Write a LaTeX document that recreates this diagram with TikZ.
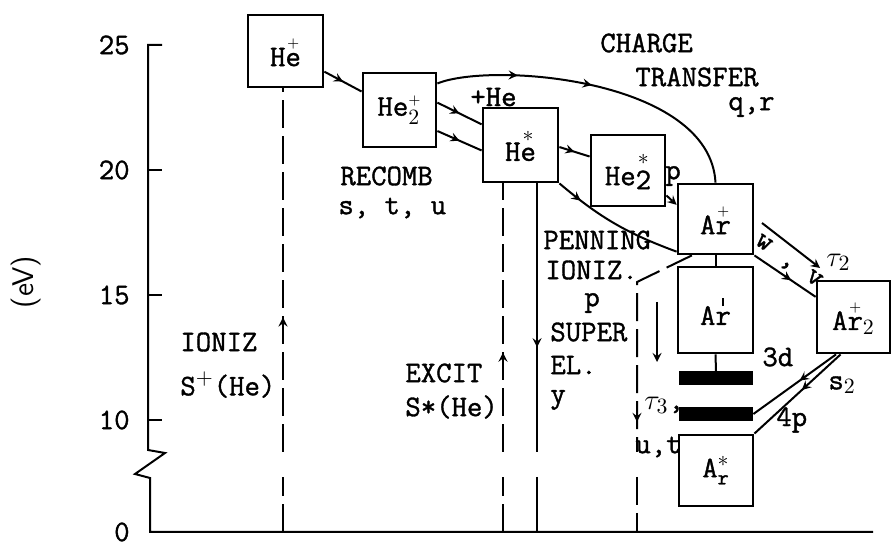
\documentclass[tikz,border=0pt]{standalone}
\usepackage{amsmath}
\usepackage{fontspec}
\setmonofont{Latin Modern Mono}[FakeBold=1.2]
\usetikzlibrary{arrows, decorations.markings, calc}

\begin{document}
\begin{tikzpicture}[x=0.5bp, y=-0.5bp, >=stealth,
        box/.style={rectangle, draw=black, line width=1.4bp, minimum width=37.5bp, minimum height=36bp, inner sep=0pt, font=\ttfamily\fontsize{15}{17}\selectfont},
        bar/.style={rectangle, fill=black, minimum width=37bp, minimum height=7bp, inner sep=0pt},
        lbl/.style={font=\ttfamily\fontsize{15}{17}\selectfont, inner sep=0pt, anchor=west},
        tick/.style={font=\ttfamily\fontsize{15}{17}\selectfont, inner sep=0pt, anchor=east},
        line/.style={draw, line width=1bp},
        dline/.style={line, dash pattern=on 14bp off 4bp},
        flow/.style={postaction={decorate}, decoration={markings, mark=at position #1 with {\arrow{>}}}},
        flow/.default=0.5
    ]
        \useasboundingbox (0,0) rectangle (891,549);

        % energy axis with break
        \draw[line] (162,45) -- (148,45) -- (148,450) -- (165,453) -- (135,474) -- (150,478) -- (150,532) -- (873,532);
        \foreach \y in {170,295,420} \draw[line] (148,\y) -- (162,\y);
        \foreach \y/\v in {45/25,170/20,295/15,420/10,532/0} \node[tick] (t\v) at (130,\y) {\v};
        \node[font=\sffamily\fontsize{15}{17}\selectfont, rotate=90] (unit) at (26,282) {(eV)};

        % levels
        \node[box] (heplus) at (285.5,51) {H$\overset{\scriptscriptstyle +}{\texttt{e}}$};
        \node[box, minimum width=36.5bp, minimum height=37bp] (hetwoplus) at (399.5,110) {He$^{\scriptscriptstyle +}_{2}$};
        \node[box, minimum height=37bp] (hestar) at (520.5,145) {H$\overset{*}{\texttt{e}}$};
        \node[box, minimum width=37bp, minimum height=35.5bp] (hetwostar) at (628,170.5) {He\raisebox{-2bp}{$\overset{*}{\texttt{2}}$}};
        \node[box, minimum height=35bp] (arplus) at (715.5,219) {A$\overset{\scriptscriptstyle +}{\texttt{r}}$};
        \node[box, minimum height=43bp] (arprime) at (715.5,310) {A$\overset{\rule{0.8bp}{4bp}}{\texttt{r}}$};
        \node[box, minimum width=36.5bp] (artwoplus) at (853.5,317) {A$\overset{\scriptscriptstyle +}{\texttt{r}}_{2}$};
        \node[box, minimum width=37bp, minimum height=35.5bp] (arstar) at (716,470.5) {A$^{*}_{\texttt{r}}$};
        \node[bar] (bard) at (716,378.5) {};
        \node[bar] (barp) at (716,414) {};

        % reaction paths
        \path[line, flow] (heplus.-28) -- (hetwoplus.154);
        \path[line, flow] (hetwoplus.11) -- (hestar.152);
        \path[line, flow] (hetwoplus.-29) -- (hestar.-172);
        \path[line, flow] (hestar.-3) -- (hetwostar.160);
        \path[line, flow=0.2] (hestar.south east) to[bend right=10] (arplus.-140);
        \path[line, ->] (hetwostar.-33) -- (arplus.160);
        \path[line, postaction={decorate}, decoration={markings, mark=at position 0.25 with {\arrow{>}}, mark=at position 0.48 with {\arrow{>}}}]
            (hetwoplus.35) .. controls +(54,-22) and +(-5.5,-104) .. (arplus.north);
        \path[line, flow=0.6] (arplus.south east) -- (artwoplus.152);
        \path[line, flow=0.44] (artwoplus.-115) -- (barp.east);
        \path[line, flow=0.45] (artwoplus.-109) -- (arstar.north east);
        \path[line] (arplus.south) -- (arprime.north);
        \path[line] (arprime.south) -- (bard.north);

        \coordinate (tauA) at (762,223);
        \coordinate (tauB) at (820,268);
        \path[line, ->] (tauA) -- (tauB);
        \coordinate (dropA) at (657,302);
        \coordinate (dropB) at (657,362);
        \path[line, ->] (dropA) -- (dropB);

        % vertical transitions, broken like the axis
        \coordinate (base) at (0,532);
        \coordinate (brkA) at (0,452);
        \coordinate (brkB) at (0,477);
        \coordinate (ion) at (283,0);
        \coordinate (exc) at (503,0);
        \coordinate (sup) at (537,0);
        \coordinate (pen) at (637,0);
        \coordinate (penkink) at (637,282);
        \path[dline, flow=0.37] (ion |- brkA) -- (ion |- heplus.south);
        \path[dline] (ion |- base) -- (ion |- brkB);
        \path[dline, flow=0.37] (exc |- brkA) -- (exc |- hestar.south);
        \path[dline] (exc |- base) -- (exc |- brkB);
        \path[line, flow=0.61] (sup |- hestar.south) -- (sup |- brkA);
        \path[line] (sup |- brkB) -- (sup |- base);
        \path[dline, flow=0.87] (arplus.-123) -- (penkink) -- (pen |- brkA);
        \path[dline] (pen |- brkB) -- (pen |- base);

        % labels
        \node[lbl] (charge) at (600,43) {CHARGE};
        \node[lbl] (transfer) at (635,77) {TRANSFER};
        \node[lbl] (qr) at (728,107) {q,r};
        \node[lbl] (plushe) at (470,97) {+He};
        \node[lbl] (recomb) at (340,176) {RECOMB};
        \node[lbl] (stu) at (338,208) {s, t, u};
        \node[lbl] (ioniz) at (180,342) {IONIZ};
        \node[lbl] (sion) at (180,385) {S$^{+}$(He)};
        \node[lbl] (excit) at (405,373) {EXCIT};
        \node[lbl] (sexc) at (405,407) {S*(He)};
        \node[lbl] (penning) at (543,240) {PENNING};
        \node[lbl] (pioniz) at (545,270) {IONIZ.};
        \node[lbl] (pp) at (584,303) {p};
        \node[lbl] (super) at (550,332) {SUPER};
        \node[lbl] (el) at (550,365) {EL.};
        \node[lbl] (yy) at (550,400) {y};
        \node[lbl] (ptr) at (665,176) {p};
        \node[lbl, rotate=-35, anchor=center] (wv) at (788,262) {w , v};
        \node[lbl] (tautwo) at (826,262) {$\tau_2$};
        \node[lbl] (taut) at (644,405) {$\tau_3$,};
        \node[lbl] (ut) at (635,447) {u,t};
        \node[lbl] (lvd) at (762,357) {3d};
        \node[lbl] (stwo) at (828,385) {s$_2$};
        \node[lbl] (lvp) at (776,420) {4p};
    \end{tikzpicture}
\end{document}
